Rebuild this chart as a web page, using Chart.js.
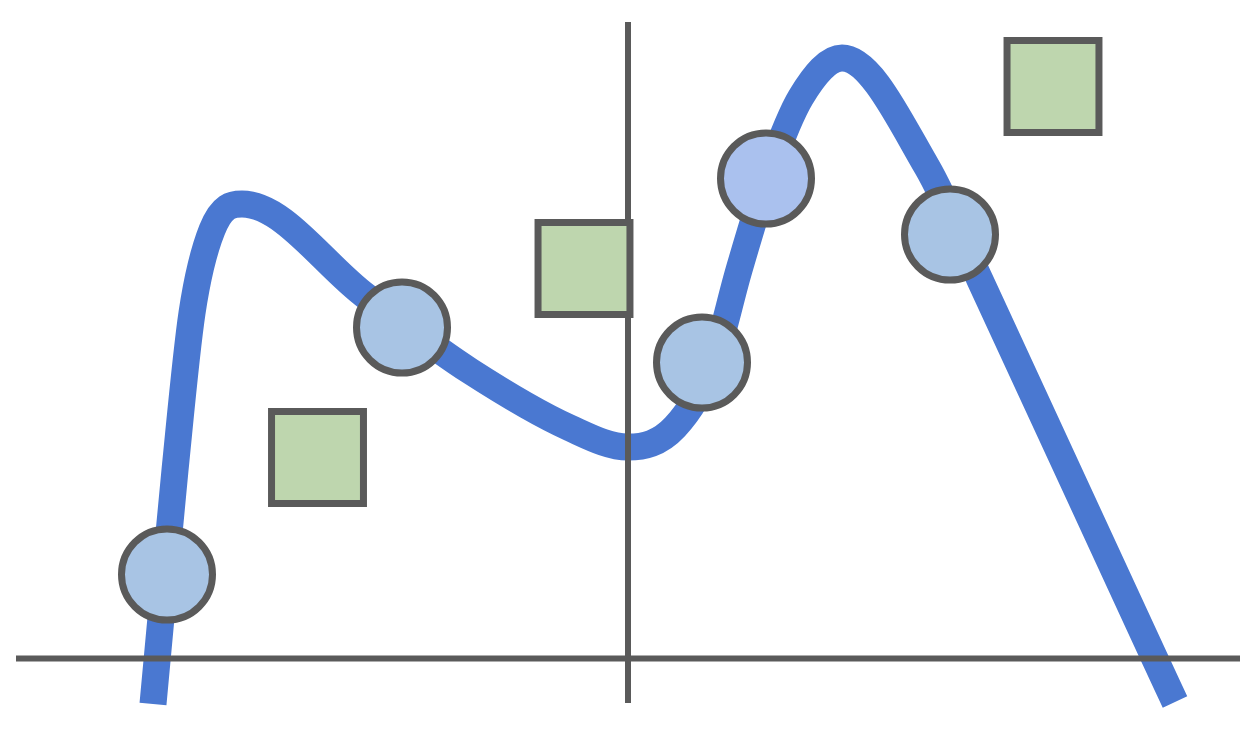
<!DOCTYPE html>
<html>
<head>
<meta charset="utf-8">
<script src="https://cdn.jsdelivr.net/npm/chart.js@4.4.1/dist/chart.umd.min.js"></script>
<style>
  html, body { margin: 0; padding: 0; background: #ffffff; }
  #wrap { width: 1256px; height: 730px; }
</style>
</head>
<body>
<div id="wrap"><canvas id="c" width="1256" height="730"></canvas></div>
<script>
// Curve samples (x, y in data units)
const curveX = [-4.75, -4.53, -4.36, -4.16, -3.86, -2.61, -1.58, -0.58, 0.00, 0.47, 0.86, 1.11, 1.42, 1.73, 2.14, 2.99, 3.52, 5.27, 5.47];
const curveY = [-0.455, 1.885, 3.455, 4.285, 4.545, 3.615, 2.875, 2.305, 2.115, 2.315, 2.985, 3.885, 4.885, 5.615, 6.005, 4.915, 3.785, -0.005, -0.435];

// Circle markers
const circleX = [-4.61, -2.26, 0.74, 1.38, 3.22];
const circleY = [0.84, 3.31, 2.96, 4.80, 4.24];
const circleHighlight = [false, false, false, true, false];

// Square markers
const squareX = [-3.105, -0.44, 4.25];
const squareY = [2.01, 3.90, 5.72];

// Axis extents
const hAxisX = [-6.12, 6.12];
const vAxisY = [-0.445, 6.365];
const xRange = [-6.28, 6.28];
const yRange = [-0.715, 6.585];

const toPts = (xs, ys) => xs.map((x, i) => ({ x: x, y: ys[i] }));
const GRAY = '#5a5a5a';

new Chart(document.getElementById('c'), {
  type: 'scatter',
  data: {
    datasets: [
      {
        label: 'squares',
        data: toPts(squareX, squareY),
        pointStyle: 'rect',
        pointRadius: 65,
        pointHoverRadius: 65,
        pointBackgroundColor: '#bed6ae',
        pointBorderColor: GRAY,
        pointBorderWidth: 7,
        showLine: false,
        clip: false,
        order: 0
      },
      {
        label: 'circles',
        data: toPts(circleX, circleY),
        pointStyle: 'circle',
        pointRadius: 45.5,
        pointHoverRadius: 45.5,
        pointBackgroundColor: circleHighlight.map(h => h ? '#aac1ee' : '#a8c4e4'),
        pointBorderColor: GRAY,
        pointBorderWidth: 7,
        showLine: false,
        clip: false,
        order: 0
      },
      {
        label: 'x-axis',
        data: toPts(hAxisX, [0, 0]),
        showLine: true,
        borderColor: GRAY,
        borderWidth: 6,
        pointRadius: 0,
        clip: false,
        order: 1
      },
      {
        label: 'y-axis',
        data: toPts([0, 0], vAxisY),
        showLine: true,
        borderColor: GRAY,
        borderWidth: 6,
        pointRadius: 0,
        clip: false,
        order: 1
      },
      {
        label: 'curve',
        data: toPts(curveX, curveY),
        showLine: true,
        borderColor: '#4a78d1',
        borderWidth: 27,
        borderJoinStyle: 'round',
        borderCapStyle: 'butt',
        cubicInterpolationMode: 'monotone',
        pointRadius: 0,
        clip: false,
        order: 2
      }
    ]
  },
  options: {
    responsive: false,
    devicePixelRatio: 1,
    animation: false,
    layout: { padding: 0, autoPadding: false },
    plugins: { legend: { display: false }, tooltip: { enabled: false } },
    events: [],
    scales: {
      x: { type: 'linear', min: xRange[0], max: xRange[1], display: false },
      y: { type: 'linear', min: yRange[0], max: yRange[1], display: false }
    }
  }
});
</script>
</body>
</html>
